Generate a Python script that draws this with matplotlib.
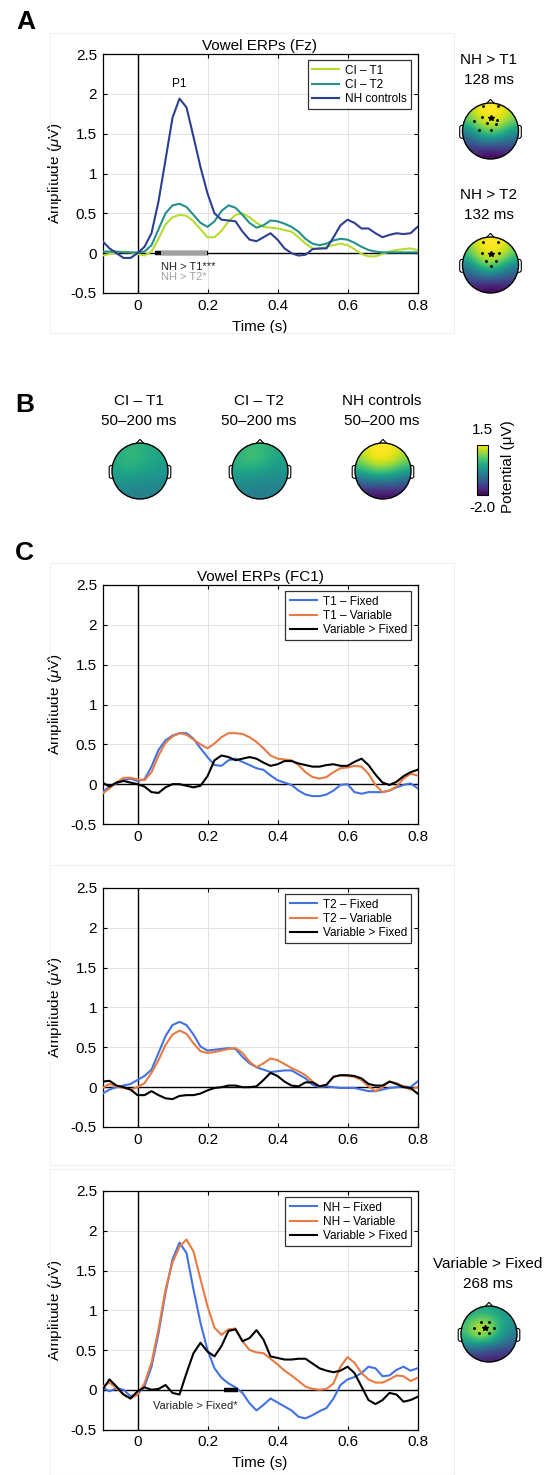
import numpy as np
import matplotlib
matplotlib.use("Agg")
import matplotlib.pyplot as plt
from matplotlib.patches import Circle, Polygon, FancyBboxPatch, Rectangle
from matplotlib.cm import ScalarMappable
from matplotlib.colors import Normalize

plt.rcParams['font.family'] = ['Liberation Sans', 'DejaVu Sans']
plt.rcParams['mathtext.fontset'] = 'custom'
plt.rcParams['mathtext.rm'] = 'Liberation Sans'
plt.rcParams['mathtext.it'] = 'Liberation Sans:italic'

# sampling times (s), every 20 ms from -0.1 to 0.8
t = np.linspace(-0.1, 0.8, 46)

# ---- panel A: Fz
fz_ci_t1 = [-0.03, -0.01, 0.01, 0.02, 0.01, -0.01, -0.03, 0.02, 0.18, 0.36, 0.45, 0.48, 0.47, 0.40, 0.30, 0.20,
            0.20, 0.28, 0.40, 0.48, 0.50, 0.45, 0.38, 0.33, 0.32, 0.31, 0.29, 0.27, 0.20, 0.12, 0.06, 0.05,
            0.08, 0.10, 0.12, 0.10, 0.05, -0.01, -0.04, -0.04, -0.01, 0.02, 0.04, 0.05, 0.06, 0.04]
fz_ci_t2 = [0.02, 0.02, 0.02, 0.01, 0.01, 0.01, 0.02, 0.10, 0.30, 0.50, 0.60, 0.62, 0.58, 0.48, 0.38, 0.33,
            0.40, 0.53, 0.60, 0.57, 0.48, 0.38, 0.32, 0.35, 0.41, 0.40, 0.37, 0.33, 0.27, 0.18, 0.12, 0.10,
            0.12, 0.16, 0.18, 0.17, 0.13, 0.08, 0.04, 0.02, 0.01, 0.01, 0.01, 0.01, 0.01, 0.01]
fz_nh = [0.15, 0.06, 0.00, -0.06, -0.06, 0.00, 0.08, 0.25, 0.65, 1.17, 1.70, 1.94, 1.83, 1.46, 1.08, 0.75,
         0.50, 0.42, 0.41, 0.40, 0.27, 0.17, 0.15, 0.20, 0.25, 0.17, 0.06, 0.00, -0.03, -0.02, 0.05, 0.06,
         0.06, 0.20, 0.35, 0.42, 0.38, 0.31, 0.31, 0.25, 0.20, 0.23, 0.25, 0.24, 0.25, 0.33]

# ---- panel C: FC1
t1_fixed = [-0.10, -0.03, 0.01, 0.05, 0.07, 0.04, 0.06, 0.22, 0.43, 0.55, 0.61, 0.64, 0.64, 0.57, 0.45, 0.34,
            0.24, 0.23, 0.30, 0.32, 0.28, 0.24, 0.20, 0.18, 0.11, 0.05, 0.02, -0.01, -0.08, -0.13, -0.15, -0.15,
            -0.13, -0.08, -0.01, 0.00, -0.10, -0.12, -0.10, -0.10, -0.10, -0.08, -0.04, -0.01, 0.01, -0.05]
t1_variable = [-0.12, -0.05, 0.02, 0.08, 0.08, 0.06, 0.05, 0.15, 0.36, 0.52, 0.60, 0.64, 0.62, 0.56, 0.50, 0.45,
               0.51, 0.59, 0.64, 0.64, 0.63, 0.59, 0.53, 0.45, 0.36, 0.32, 0.31, 0.30, 0.24, 0.15, 0.09, 0.07,
               0.09, 0.15, 0.20, 0.21, 0.23, 0.22, 0.13, -0.01, -0.10, -0.08, -0.03, 0.07, 0.13, 0.11]
t1_diff = [0.02, -0.03, 0.02, 0.04, 0.02, 0.00, -0.03, -0.10, -0.11, -0.04, 0.00, 0.00, -0.02, -0.04, -0.02, 0.10,
           0.30, 0.36, 0.34, 0.30, 0.32, 0.34, 0.32, 0.27, 0.23, 0.25, 0.29, 0.29, 0.26, 0.24, 0.22, 0.22,
           0.24, 0.25, 0.23, 0.23, 0.28, 0.32, 0.24, 0.12, 0.02, -0.01, 0.03, 0.10, 0.15, 0.18]

t2_fixed = [-0.08, -0.03, 0.00, 0.02, 0.04, 0.09, 0.14, 0.22, 0.43, 0.64, 0.78, 0.82, 0.78, 0.66, 0.51, 0.46,
            0.47, 0.48, 0.49, 0.48, 0.38, 0.30, 0.25, 0.22, 0.19, 0.20, 0.21, 0.21, 0.16, 0.11, 0.03, 0.00,
            0.01, 0.00, -0.01, -0.01, -0.01, -0.03, -0.05, -0.05, -0.03, -0.01, 0.00, 0.01, 0.00, 0.07]
t2_variable = [-0.01, 0.04, 0.01, -0.01, -0.03, 0.00, 0.05, 0.18, 0.34, 0.53, 0.66, 0.71, 0.67, 0.55, 0.45, 0.43,
               0.44, 0.46, 0.48, 0.49, 0.43, 0.32, 0.25, 0.30, 0.36, 0.34, 0.29, 0.24, 0.20, 0.15, 0.07, 0.01,
               0.03, 0.13, 0.15, 0.14, 0.13, 0.09, 0.01, -0.05, 0.00, 0.07, 0.05, 0.01, -0.03, 0.00]
t2_diff = [0.07, 0.08, 0.02, 0.00, -0.03, -0.10, -0.10, -0.05, -0.10, -0.14, -0.15, -0.11, -0.10, -0.10, -0.08, -0.04,
           -0.01, 0.00, 0.02, 0.02, 0.00, 0.00, 0.01, 0.09, 0.18, 0.14, 0.07, 0.02, 0.01, 0.06, 0.06, 0.01,
           0.03, 0.13, 0.15, 0.15, 0.14, 0.11, 0.04, 0.02, 0.02, 0.07, 0.04, 0.00, -0.01, -0.08]

nh_fixed = [0.03, -0.02, 0.02, 0.00, -0.08, -0.06, 0.04, 0.29, 0.71, 1.22, 1.64, 1.85, 1.72, 1.26, 0.84, 0.50,
            0.27, 0.15, 0.08, 0.03, -0.04, -0.17, -0.26, -0.19, -0.11, -0.16, -0.21, -0.26, -0.34, -0.36, -0.32, -0.27,
            -0.23, -0.11, 0.06, 0.13, 0.16, 0.21, 0.29, 0.27, 0.17, 0.18, 0.25, 0.29, 0.24, 0.27]
nh_variable = [0.04, 0.09, 0.02, -0.06, -0.11, -0.06, 0.08, 0.34, 0.76, 1.26, 1.60, 1.80, 1.89, 1.74, 1.39, 1.05,
               0.78, 0.69, 0.76, 0.77, 0.61, 0.50, 0.47, 0.46, 0.39, 0.32, 0.24, 0.18, 0.11, 0.04, 0.01, 0.00,
               0.01, 0.08, 0.29, 0.41, 0.34, 0.21, 0.13, 0.09, 0.09, 0.13, 0.18, 0.17, 0.11, 0.15]
nh_diff = [0.00, 0.13, 0.04, -0.06, -0.11, -0.02, 0.03, 0.00, 0.01, 0.06, -0.04, -0.06, 0.21, 0.46, 0.59, 0.48,
           0.42, 0.55, 0.74, 0.76, 0.61, 0.65, 0.75, 0.63, 0.42, 0.40, 0.38, 0.38, 0.39, 0.39, 0.33, 0.27,
           0.24, 0.22, 0.24, 0.29, 0.21, 0.04, -0.13, -0.18, -0.13, -0.04, -0.06, -0.15, -0.13, -0.09]

# significant windows (s)
sig_nh_t1 = (0.051, 0.20)
sig_nh_t2 = (0.068, 0.198)
sig_nh_var = (0.246, 0.286)

# ---- topographies (rows front -> back)
topo_nh_t1 = [[0.85, 1.00, 1.00, 1.00, 0.85],
              [0.75, 0.95, 1.00, 0.95, 0.80],
              [0.45, 0.70, 0.80, 0.70, 0.50],
              [0.25, 0.35, 0.40, 0.35, 0.30],
              [0.12, 0.05, 0.00, 0.05, 0.12]]
topo_nh_t2 = [[0.80, 1.00, 1.00, 1.00, 0.80],
              [0.70, 0.95, 1.00, 0.95, 0.75],
              [0.45, 0.70, 0.80, 0.65, 0.45],
              [0.25, 0.35, 0.40, 0.30, 0.25],
              [0.12, 0.05, 0.00, 0.05, 0.10]]
topo_var_fixed = [[0.55, 0.60, 0.60, 0.55, 0.50],
                  [0.70, 0.90, 0.85, 0.65, 0.50],
                  [0.70, 0.95, 0.85, 0.60, 0.42],
                  [0.45, 0.50, 0.45, 0.35, 0.28],
                  [0.18, 0.12, 0.08, 0.08, 0.12]]
topo_ci_t1 = [[0.10, 0.30, 0.25, 0.15, 0.05],
              [0.20, 0.35, 0.25, 0.10, 0.00],
              [0.05, 0.15, 0.05, -0.05, -0.15],
              [-0.20, -0.20, -0.25, -0.30, -0.30],
              [-0.40, -0.45, -0.50, -0.45, -0.40]]
topo_ci_t2 = [[0.15, 0.40, 0.35, 0.20, 0.05],
              [0.30, 0.50, 0.40, 0.15, 0.00],
              [0.05, 0.05, -0.05, -0.15, -0.20],
              [-0.30, -0.30, -0.35, -0.35, -0.35],
              [-0.45, -0.50, -0.55, -0.50, -0.45]]
topo_nh = [[1.20, 1.50, 1.50, 1.45, 1.10],
           [0.90, 1.40, 1.50, 1.30, 0.80],
           [0.10, 0.50, 0.60, 0.40, 0.00],
           [-0.90, -0.70, -0.70, -0.80, -1.00],
           [-1.70, -1.80, -1.90, -1.80, -1.70]]

# electrodes in head units (x, y), and the peak electrode
dots_nh_t1 = [(-0.27, 0.88), (0.27, 0.88), (-0.30, 0.49), (0.24, 0.41), (-0.59, 0.35),
              (-0.12, 0.27), (0.18, 0.24), (-0.40, 0.05), (0.0, 0.05)]
star_nh_t1 = (0.0, 0.45)
dots_nh_t2 = [(-0.27, 0.82), (0.27, 0.82), (-0.30, 0.43), (0.32, 0.43), (-0.16, 0.15),
              (0.18, 0.15), (0.0, -0.05)]
star_nh_t2 = (0.0, 0.39)
dots_var = [(-0.30, 0.43), (0.0, 0.43), (-0.55, 0.23), (0.18, 0.23), (-0.37, 0.02), (0.0, 0.02)]
star_var = (-0.15, 0.23)

W, H = 544, 1475
fig = plt.figure(figsize=(W / 100, H / 100), dpi=100)


def add_ax(x, y, w, h):
    return fig.add_axes([x / W, 1 - (y + h) / H, w / W, h / H])


def ftext(x, y, s, **kw):
    fig.text(x / W, 1 - y / H, s, **kw)


# faint panel frames
for (fx, fy, fw, fh) in [(50, 33, 404, 300), (50, 563, 404, 302), (50, 865, 404, 300), (50, 1169, 404, 306)]:
    fig.patches.append(Rectangle((fx / W, 1 - (fy + fh) / H), fw / W, fh / H, transform=fig.transFigure,
                                 fill=False, ec='#f0f0f0', lw=0.8))


def erp_axes(rect, curves, title=None, xlabel=False):
    ax = add_ax(*rect)
    ax.axhline(0, color='k', lw=1.0, zorder=1)
    ax.axvline(0, color='k', lw=1.0, zorder=1)
    for y, c, lab in curves:
        ax.plot(t, y, color=c, lw=1.5, label=lab, zorder=3, solid_joinstyle='round')
    ax.set_xlim(-0.1, 0.8)
    ax.set_ylim(-0.5, 2.5)
    ax.set_xticks([0, 0.2, 0.4, 0.6, 0.8])
    ax.set_xticklabels(['0', '0.2', '0.4', '0.6', '0.8'])
    ax.set_yticks([-0.5, 0, 0.5, 1, 1.5, 2, 2.5])
    ax.set_yticklabels(['-0.5', '0', '0.5', '1', '1.5', '2', '2.5'])
    ax.grid(color='#e2e2e2', lw=0.7)
    ax.set_axisbelow(True)
    ax.tick_params(direction='in', top=True, right=True, length=3, labelsize=11, pad=4)
    for s in ax.spines.values():
        s.set_linewidth(0.9)
    ax.set_ylabel(r'Amplitude ($\mathit{\mu}$V)', fontsize=11, labelpad=5)
    if title:
        ax.set_title(title, fontsize=11, pad=3)
    if xlabel:
        ax.set_xlabel('Time (s)', fontsize=11, labelpad=5)
    leg = ax.legend(loc='upper right', fontsize=8.5, frameon=True, fancybox=False, edgecolor='k',
                    handlelength=2.3, labelspacing=0.2, borderpad=0.35, handletextpad=0.5,
                    borderaxespad=0.55)
    leg.get_frame().set_linewidth(0.9)
    return ax


def head(cx, cy, grid, vmin, vmax, dots=None, star=None, r=28):
    s = r * 1.35
    ax = add_ax(cx - s, cy - s, 2 * s, 2 * s)
    ax.set_xlim(-1.35, 1.35)
    ax.set_ylim(-1.35, 1.35)
    ax.axis('off')
    for sx in (-1, 1):
        ax.add_patch(FancyBboxPatch((sx * 1.0 - 0.1, -0.26), 0.2, 0.46,
                                    boxstyle='round,pad=0,rounding_size=0.08',
                                    fc='white', ec='k', lw=0.8, zorder=1))
    ax.add_patch(Polygon([(-0.14, 0.98), (0, 1.13), (0.14, 0.98)], closed=True,
                         fc='white', ec='k', lw=0.8, zorder=1))
    ax.add_patch(Circle((0, 0), 1.0, fc='white', ec='none', zorder=2))
    im = ax.imshow(grid, extent=(-1, 1, -1, 1), cmap='viridis', vmin=vmin, vmax=vmax,
                   interpolation='bicubic', zorder=3)
    im.set_clip_path(Circle((0, 0), 1.0, transform=ax.transData))
    ax.add_patch(Circle((0, 0), 1.0, fill=False, ec='k', lw=1.0, zorder=4))
    if dots:
        ax.plot([d[0] for d in dots], [d[1] for d in dots], 'o', color='k', ms=1.1, zorder=5)
    if star:
        ax.plot([star[0]], [star[1]], '*', color='k', ms=4.2, zorder=5)
    return ax


# ---------------- panel A
axA = erp_axes((102.5, 54, 315, 239),
               [(fz_ci_t1, '#b5dc2e', 'CI – T1'), (fz_ci_t2, '#23908c', 'CI – T2'),
                (fz_nh, '#2d3f8f', 'NH controls')],
               title='Vowel ERPs (Fz)', xlabel=True)
axA.plot(sig_nh_t1, [0, 0], color='k', lw=3.2, solid_capstyle='butt', zorder=4)
axA.plot(sig_nh_t2, [0, 0], color='#a0a0a0', lw=3.2, solid_capstyle='butt', zorder=5)
axA.text(0.12, 2.05, 'P1', fontsize=8.5, ha='center', va='bottom')
axA.text(0.066, -0.17, 'NH > T1***', fontsize=8, ha='left', va='center', color='#222222')
axA.text(0.066, -0.305, 'NH > T2*', fontsize=8, ha='left', va='center', color='#a0a0a0')

ftext(25.5, 22, 'A', fontsize=19, fontweight='bold', ha='center', va='center')
ftext(489, 60, 'NH > T1', fontsize=11, ha='center', va='center')
ftext(489, 80, '128 ms', fontsize=11, ha='center', va='center')
head(490.5, 131, topo_nh_t1, 0, 1, dots_nh_t1, star_nh_t1)
ftext(489, 195, 'NH > T2', fontsize=11, ha='center', va='center')
ftext(489, 215, '132 ms', fontsize=11, ha='center', va='center')
head(490.5, 265, topo_nh_t2, 0, 1, dots_nh_t2, star_nh_t2)

# ---------------- panel B
ftext(25, 405, 'B', fontsize=19, fontweight='bold', ha='center', va='center')
for cx, name, grid in [(140, 'CI – T1', topo_ci_t1), (260, 'CI – T2', topo_ci_t2),
                       (383, 'NH controls', topo_nh)]:
    ftext(cx - 1, 401, name, fontsize=11, ha='center', va='center')
    ftext(cx - 1, 421, '50–200 ms', fontsize=11, ha='center', va='center')
    head(cx, 471, grid, -2.0, 1.5)

cax = add_ax(477, 445, 10.5, 50)
cb = fig.colorbar(ScalarMappable(Normalize(-2.0, 1.5), cmap='viridis'), cax=cax)
cb.set_ticks([])
cb.outline.set_linewidth(0.8)
ftext(482, 430, '1.5', fontsize=11, ha='center', va='center')
ftext(482, 508, '-2.0', fontsize=11, ha='center', va='center')
ftext(508, 467, 'Potential (μV)', fontsize=11, ha='center', va='center', rotation=90)

# ---------------- panel C
ftext(24, 553, 'C', fontsize=19, fontweight='bold', ha='center', va='center')
blue, orange = '#4372e3', '#e97a42'
erp_axes((102.5, 585, 315, 239),
         [(t1_fixed, blue, 'T1 – Fixed'), (t1_variable, orange, 'T1 – Variable'),
          (t1_diff, 'k', 'Variable > Fixed')],
         title='Vowel ERPs (FC1)')
erp_axes((102.5, 888, 315, 239),
         [(t2_fixed, blue, 'T2 – Fixed'), (t2_variable, orange, 'T2 – Variable'),
          (t2_diff, 'k', 'Variable > Fixed')])
axC3 = erp_axes((102.5, 1191, 315, 238.5),
                [(nh_fixed, blue, 'NH – Fixed'), (nh_variable, orange, 'NH – Variable'),
                 (nh_diff, 'k', 'Variable > Fixed')], xlabel=True)
axC3.plot(sig_nh_var, [0, 0], color='k', lw=3.2, solid_capstyle='butt', zorder=5)
axC3.text(0.045, -0.2, 'Variable > Fixed*', fontsize=8, ha='left', va='center', color='#222222')

ftext(488, 1264, 'Variable > Fixed', fontsize=11, ha='center', va='center')
ftext(488, 1284, '268 ms', fontsize=11, ha='center', va='center')
head(489, 1334, topo_var_fixed, 0, 1, dots_var, star_var)

fig.savefig('out.png', dpi=100, facecolor='white')
